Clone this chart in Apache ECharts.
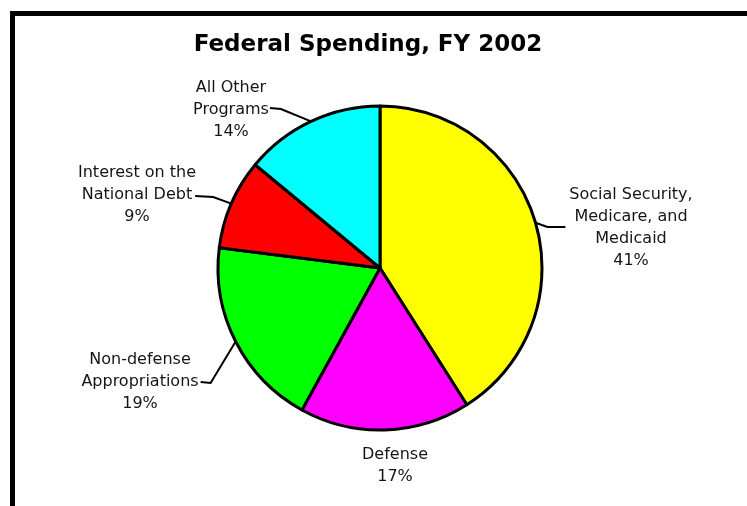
<!DOCTYPE html>
<html>
<head>
<meta charset="utf-8">
<script src="https://cdn.jsdelivr.net/npm/echarts@6/dist/echarts.min.js"></script>
<style>
html,body{margin:0;padding:0;background:#fff;}
#c{width:747px;height:506px;}
</style>
</head>
<body>
<div id="c"></div>
<script>
// ---- data ----
const titleText = 'Federal Spending, FY 2002';
const categories = [
  'Social Security,\nMedicare, and\nMedicaid',
  'Defense',
  'Non-defense\nAppropriations',
  'Interest on the\nNational Debt',
  'All Other\nPrograms'
];
const values = [41, 17, 19, 9, 14];

// ---- styles / layout ----
const sliceColors = ['#FFFF00', '#FF00FF', '#00FF00', '#FF0000', '#00FFFF'];
const LABEL_FONT_SIZE = 16;
const LABEL_FONT_FAMILY = '"DejaVu Sans", sans-serif';
const LINE_H = 22;
// label block centre, which text line the leader attaches to, side, gap and horizontal run
const labelCfg = [
  {x: 631, y: 228, line: 1, side: 'left',  gap: 9, run: 18, dy: 10},
  {x: 395, y: 466, line: null},
  {x: 140, y: 382, line: 1, side: 'right', gap: 2, run: 10, dy: 0},
  {x: 137, y: 195, line: 1, side: 'right', gap: 3, run: 18, dy: 1},
  {x: 231, y: 110, line: 1, side: 'right', gap: 1, run: 11, dy: -2}
];

const measureCtx = document.createElement('canvas').getContext('2d');
measureCtx.font = LABEL_FONT_SIZE + 'px ' + LABEL_FONT_FAMILY;
function textW(s) { return measureCtx.measureText(s).width; }

const chart = echarts.init(document.getElementById('c'), null, {renderer: 'canvas'});

const option = {
  backgroundColor: '#fff',
  animation: false,
  graphic: [
    {type: 'rect', shape: {x: 10, y: 11, width: 737, height: 5}, style: {fill: '#000'}},
    {type: 'rect', shape: {x: 10, y: 11, width: 5, height: 495}, style: {fill: '#000'}},
    {type: 'text', x: 368, y: 45, style: {
      text: titleText, align: 'center', verticalAlign: 'middle',
      font: 'bold 23px "DejaVu Sans", sans-serif', fill: '#000'
    }}
  ],
  series: [{
    type: 'pie',
    center: [380, 268],
    radius: 162,
    startAngle: 90,
    clockwise: true,
    avoidLabelOverlap: false,
    itemStyle: {borderColor: '#000', borderWidth: 3},
    label: {
      show: true,
      position: 'outside',
      formatter: '{b}\n{c}%',
      color: '#151515',
      fontFamily: LABEL_FONT_FAMILY,
      fontSize: LABEL_FONT_SIZE,
      lineHeight: LINE_H,
      align: 'center'
    },
    labelLine: {show: true, lineStyle: {color: '#000', width: 2}},
    labelLayout: function (params) {
      const cfg = labelCfg[params.dataIndex];
      const res = {x: cfg.x, y: cfg.y, align: 'center', verticalAlign: 'middle'};
      if (cfg.line !== null && params.labelLinePoints) {
        const lines = (categories[params.dataIndex] + '\n' + values[params.dataIndex] + '%').split('\n');
        const top = cfg.y - lines.length * LINE_H / 2;
        const ly = top + LINE_H * (cfg.line + 0.5) + cfg.dy;
        const w = textW(lines[cfg.line]);
        const start = params.labelLinePoints[0];
        let endX, elbowX;
        if (cfg.side === 'left') {
          endX = cfg.x - w / 2 - cfg.gap;
          elbowX = endX - cfg.run;
        } else {
          endX = cfg.x + w / 2 + cfg.gap;
          elbowX = endX + cfg.run;
        }
        res.labelLinePoints = [start, [elbowX, ly + (cfg.side === 'left' ? 0 : 1)], [endX, ly]];
      }
      return res;
    },
    data: categories.map(function (name, i) {
      const d = {name: name, value: values[i], itemStyle: {color: sliceColors[i]}};
      if (labelCfg[i].line === null) d.labelLine = {show: false};
      return d;
    })
  }]
};
chart.setOption(option);
</script>
</body>
</html>
